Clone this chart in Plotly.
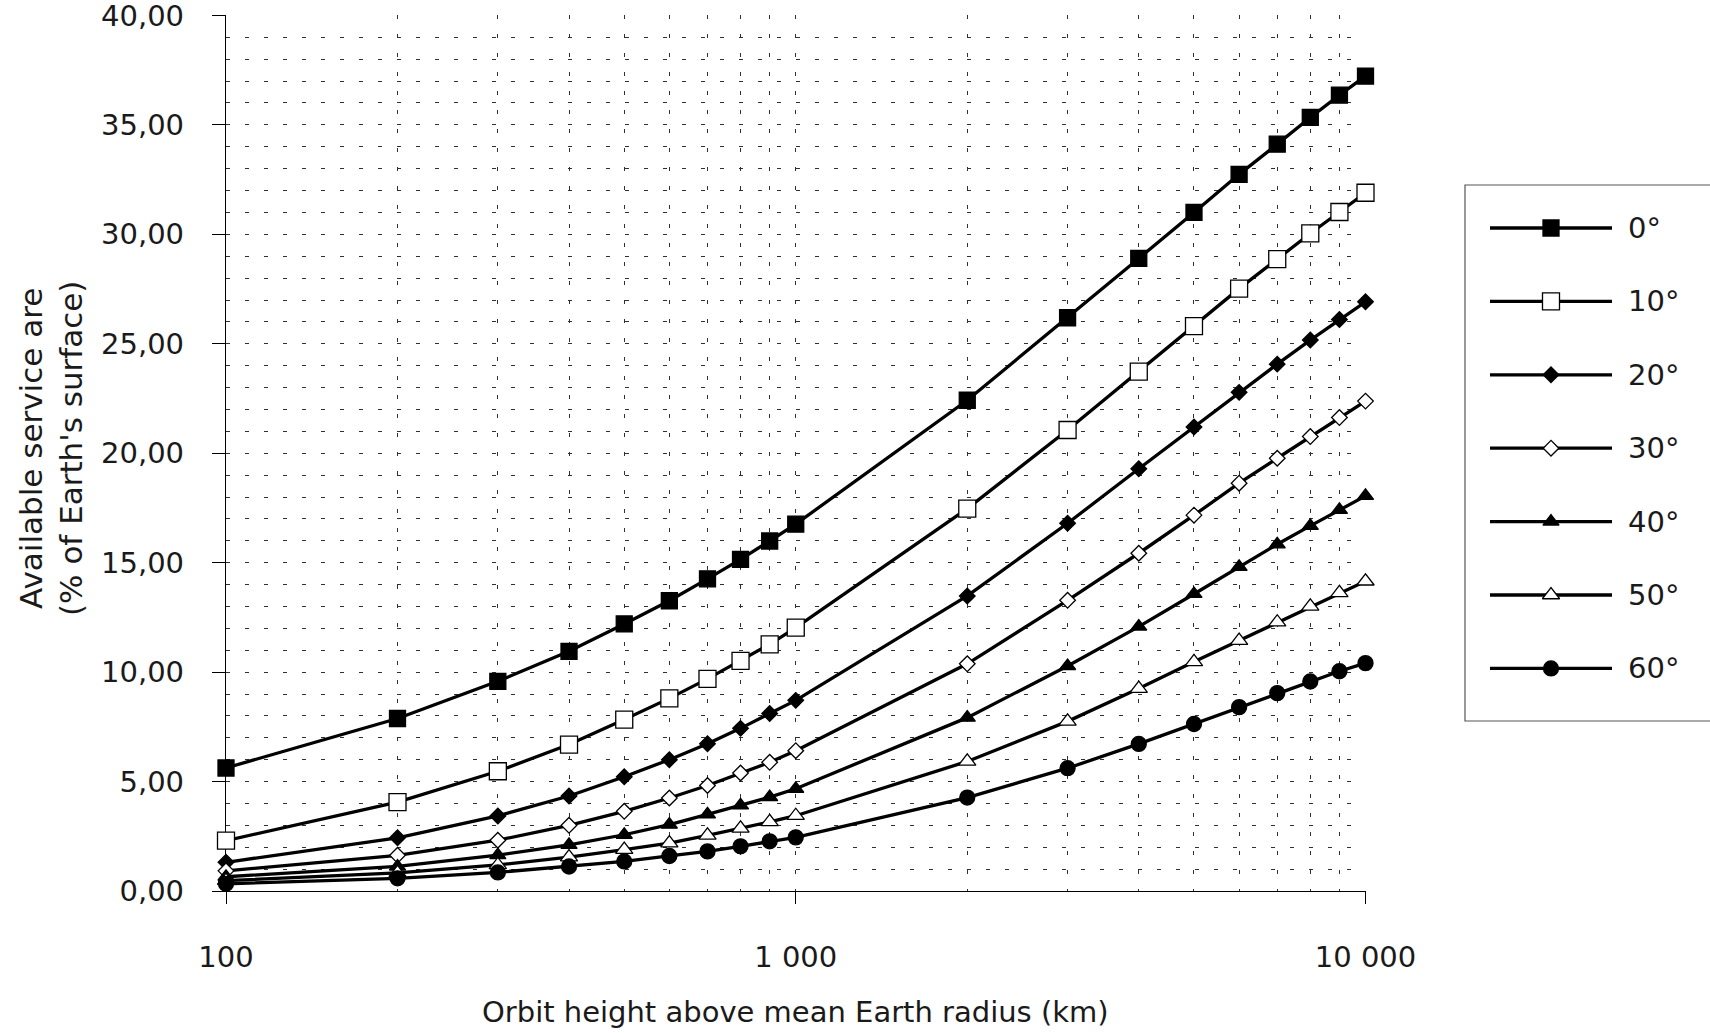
import plotly.graph_objects as go

# ---------------- data ----------------
heights_km = [100, 200, 300, 400, 500, 600, 700, 800, 900, 1000,
              2000, 3000, 4000, 5000, 6000, 7000, 8000, 9000, 10000]

series_names = ["0°", "10°", "20°", "30°", "40°", "50°", "60°"]

elev_0 = [5.62, 7.88, 9.58, 10.95, 12.20, 13.26, 14.26, 15.15, 15.99, 16.76,
          22.42, 26.19, 28.90, 31.00, 32.74, 34.12, 35.34, 36.36, 37.23]
elev_10 = [2.30, 4.06, 5.47, 6.69, 7.83, 8.80, 9.69, 10.51, 11.27, 12.03,
           17.47, 21.06, 23.73, 25.81, 27.52, 28.87, 30.04, 31.02, 31.90]
elev_20 = [1.31, 2.43, 3.43, 4.34, 5.22, 6.00, 6.73, 7.43, 8.11, 8.71,
           13.48, 16.80, 19.29, 21.20, 22.78, 24.07, 25.17, 26.11, 26.92]
elev_30 = [0.92, 1.63, 2.32, 3.00, 3.64, 4.25, 4.82, 5.39, 5.88, 6.41,
           10.38, 13.28, 15.43, 17.17, 18.63, 19.77, 20.76, 21.63, 22.38]
elev_40 = [0.65, 1.12, 1.64, 2.11, 2.57, 3.03, 3.50, 3.91, 4.29, 4.67,
           7.92, 10.28, 12.08, 13.57, 14.81, 15.84, 16.68, 17.41, 18.05]
elev_50 = [0.47, 0.83, 1.19, 1.55, 1.89, 2.19, 2.54, 2.86, 3.16, 3.44,
           5.92, 7.75, 9.25, 10.47, 11.44, 12.28, 13.00, 13.62, 14.15]
elev_60 = [0.33, 0.58, 0.85, 1.12, 1.35, 1.60, 1.81, 2.04, 2.27, 2.45,
           4.27, 5.61, 6.72, 7.63, 8.40, 9.04, 9.57, 10.04, 10.41]

series_values = [elev_0, elev_10, elev_20, elev_30, elev_40, elev_50, elev_60]

x_tick_vals = [100, 1000, 10000]
x_tick_text = ["100", "1 000", "10 000"]
x_minor_vals = [200, 300, 400, 500, 600, 700, 800, 900,
                2000, 3000, 4000, 5000, 6000, 7000, 8000, 9000]
y_tick_vals = [0, 5, 10, 15, 20, 25, 30, 35, 40]

x_title = "Orbit height above mean Earth radius (km)"
y_title = "Available service are<br>(% of Earth's surface)"

# ---------------- styles ----------------
FONT = "DejaVu Sans"
TXT = "#1a1a1a"
GRID = "#303030"
marker_styles = [
    dict(symbol="square", size=16, color="black"),
    dict(symbol="square", size=17, color="white"),
    dict(symbol="diamond", size=12, color="black"),
    dict(symbol="diamond", size=12, color="white"),
    dict(symbol="triangle-up", size=14, color="black"),
    dict(symbol="triangle-up", size=15, color="white"),
    dict(symbol="circle", size=15, color="black"),
]

W, H = 1710, 1033
ML, MR, MT, MB = 226, 0, 15, 142
plot_right = 1365.5
pw = W - ML - MR
ph = H - MT - MB
x_dom_end = (plot_right - ML) / pw

fig = go.Figure()

for name, vals, ms in zip(series_names, series_values, marker_styles):
    fig.add_trace(go.Scatter(
        x=heights_km, y=vals, name=name, mode="lines+markers",
        line=dict(color="black", width=3.3),
        marker=dict(symbol=ms["symbol"], size=ms["size"], color=ms["color"],
                    line=dict(color="black", width=1.3)),
        cliponaxis=False, showlegend=False,
    ))

# ---------------- custom legend on an auxiliary axis ----------------
leg_left_px, leg_top_px, leg_bot_px = 1465, 185, 721
leg_x0 = (leg_left_px - ML) / pw
leg_y0 = (H - MB - leg_bot_px) / ph
leg_y1 = (H - MB - leg_top_px) / ph
leg_w_px = W - leg_left_px
leg_h_px = leg_bot_px - leg_top_px

line_x0 = (1490 - leg_left_px) / leg_w_px
line_x1 = (1612 - leg_left_px) / leg_w_px
mark_x = (1551 - leg_left_px) / leg_w_px
text_x = (1626 - leg_left_px) / leg_w_px
row0 = (leg_bot_px - 228) / leg_h_px
row_step = 73.4 / leg_h_px

for i, (name, ms) in enumerate(zip(series_names, marker_styles)):
    ry = row0 - i * row_step
    fig.add_trace(go.Scatter(
        x=[line_x0, line_x1], y=[ry, ry], mode="lines",
        line=dict(color="black", width=3.3), xaxis="x2", yaxis="y2",
        showlegend=False, hoverinfo="skip"))
    fig.add_trace(go.Scatter(
        x=[mark_x], y=[ry], mode="markers",
        marker=dict(symbol=ms["symbol"], size=ms["size"], color=ms["color"],
                    line=dict(color="black", width=1.3)),
        xaxis="x2", yaxis="y2", showlegend=False, hoverinfo="skip",
        cliponaxis=False))
    fig.add_annotation(x=text_x, y=ry, xref="x2", yref="y2", text=name,
                       showarrow=False, xanchor="left", yanchor="middle",
                       font=dict(family=FONT, size=29, color=TXT))

fig.add_shape(type="rect", xref="paper", yref="paper",
              x0=leg_x0, x1=1.02, y0=leg_y0, y1=leg_y1,
              line=dict(color="#555555", width=1.2), fillcolor="rgba(0,0,0,0)")

# ---------------- axes ----------------
dash = "4px,15px"
fig.update_layout(
    width=W, height=H,
    margin=dict(l=ML, r=MR, t=MT, b=MB, pad=0, autoexpand=False),
    paper_bgcolor="white", plot_bgcolor="white",
    separators=", ",
    font=dict(family=FONT, size=29, color=TXT),
    xaxis=dict(
        type="log", range=[2, 4], domain=[0, x_dom_end],
        tickvals=x_tick_vals, ticktext=x_tick_text,
        ticks="outside", ticklen=12, tickwidth=1.3, tickcolor="black",
        ticklabelstandoff=28, automargin=False, ticklabeloverflow="allow",
        showline=True, linecolor="black", linewidth=1.3,
        showgrid=True, gridcolor=GRID, griddash=dash, gridwidth=1,
        minor=dict(tickvals=x_minor_vals, showgrid=True, gridcolor=GRID,
                   griddash=dash, gridwidth=1, ticks=""),
        zeroline=False, layer="below traces",
        tickfont=dict(family=FONT, size=29, color=TXT),
    ),
    yaxis=dict(
        range=[0, 40.02], tickvals=y_tick_vals, tickformat=".2f",
        ticks="outside", ticklen=13, tickwidth=1.3, tickcolor="black",
        ticklabelstandoff=22, automargin=False, ticklabeloverflow="allow",
        showline=True, linecolor="black", linewidth=1.3,
        showgrid=True, gridcolor=GRID, griddash=dash, gridwidth=1,
        minor=dict(dtick=1, showgrid=True, gridcolor=GRID,
                   griddash=dash, gridwidth=1, ticks=""),
        zeroline=False, layer="below traces",
        tickfont=dict(family=FONT, size=29, color=TXT),
    ),
    xaxis2=dict(domain=[leg_x0, 1], range=[0, 1], visible=False,
                anchor="y2", fixedrange=True, automargin=False),
    yaxis2=dict(domain=[leg_y0, leg_y1], range=[0, 1], visible=False,
                anchor="x2", fixedrange=True, automargin=False),
    showlegend=False,
)

fig.add_annotation(text=x_title, xref="paper", yref="paper",
                   x=(795 - ML) / pw, y=(H - MB - 1012) / ph,
                   showarrow=False, xanchor="center", yanchor="middle",
                   font=dict(family=FONT, size=29, color=TXT))
fig.add_annotation(text=y_title, xref="paper", yref="paper",
                   x=(51 - ML) / pw, y=(H - MB - 449) / ph,
                   showarrow=False, xanchor="center", yanchor="middle",
                   textangle=-90,
                   font=dict(family=FONT, size=31, color=TXT))

fig.write_html("out.html")
